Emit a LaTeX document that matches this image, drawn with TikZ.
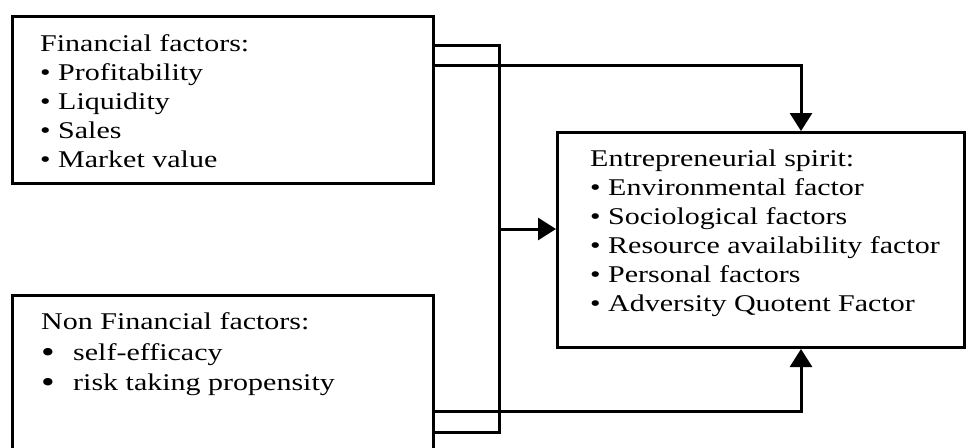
\documentclass[tikz,border=0pt]{standalone}
\usepackage{fontspec}
\setmainfont[FakeStretch=1.25]{Liberation Serif}
\usetikzlibrary{arrows.meta}
\tikzset{
  box/.style={draw, line width=3pt, rectangle, inner sep=0pt, anchor=north west},
  txt/.style={anchor=base west, inner sep=0pt, font=\fontsize{24}{29}\selectfont},
  conn/.style={line width=3pt},
  arr/.style={line width=3pt, -{Triangle[width=22pt,length=18pt]}}
}
\newcommand{\bigdot}{\makebox[32pt][l]{\raisebox{-2.5pt}{\scalebox{1.3}{\textbullet}}}}
\begin{document}
\begin{tikzpicture}[x=1pt,y=-1pt]
\useasboundingbox[fill=white] (0,0) rectangle (974,447);
% boxes
\node[box, minimum width=421pt, minimum height=167pt] (fin) at (11,15) {};
\node[box, minimum width=421pt, minimum height=190pt] (non) at (11,294) {};
\node[box, minimum width=407pt, minimum height=215pt] (ent) at (556,131) {};
% texts
\node[txt] (f0) at (40,51) {Financial factors:};
\node[txt] (f1) at (40,80) {\textbullet\ Profitability};
\node[txt] (f2) at (40,109) {\textbullet\ Liquidity};
\node[txt] (f3) at (40,138) {\textbullet\ Sales};
\node[txt] (f4) at (40,167) {\textbullet\ Market value};
\node[txt] (n0) at (41,329) {Non Financial factors:};
\node[txt] (n1) at (41,360) {\bigdot self-efficacy};
\node[txt] (n2) at (41,390) {\bigdot risk taking propensity};
\node[txt] (e0) at (590,166) {Entrepreneurial spirit:};
\node[txt] (e1) at (590,195) {\textbullet\ Environmental factor};
\node[txt] (e2) at (590,224) {\textbullet\ Sociological factors};
\node[txt] (e3) at (590,253) {\textbullet\ Resource availability factor};
\node[txt] (e4) at (590,282) {\textbullet\ Personal factors};
\node[txt] (e5) at (590,311) {\textbullet\ Adversity Quotent Factor};
% connectors
\coordinate (bus) at (499,229);
\draw[conn] ([yshift=-30pt]fin.north east) -| (bus) |- ([yshift=-138pt]non.north east);
\draw[arr] (bus) -- (ent.west |- bus);
\draw[arr] ([yshift=-50pt]fin.north east) -| ([xshift=40pt]ent.north);
\draw[arr] ([yshift=-117pt]non.north east) -| ([xshift=40pt]ent.south);
\end{tikzpicture}
\end{document}
